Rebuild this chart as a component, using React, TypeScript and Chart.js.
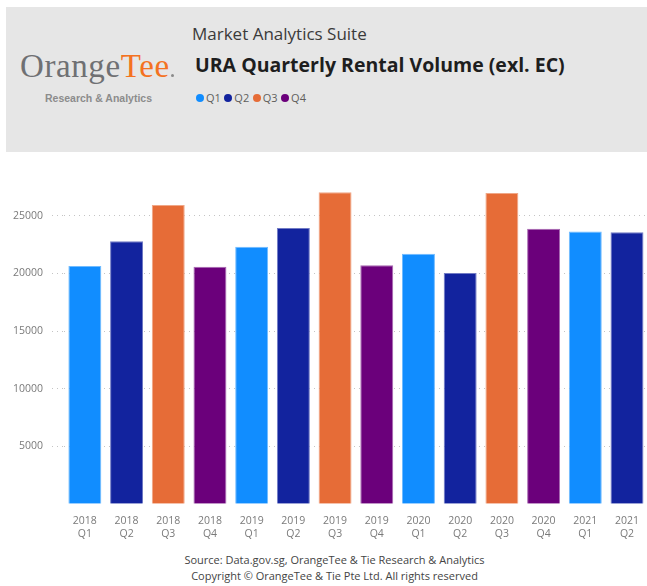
import React, { useEffect, useRef } from "react";
import { Chart, registerables } from "chart.js";

Chart.register(...registerables);

// ---- data ----
const years = ["2018", "2018", "2018", "2018", "2019", "2019", "2019", "2019", "2020", "2020", "2020", "2020", "2021", "2021"];
const quarters = ["Q1", "Q2", "Q3", "Q4", "Q1", "Q2", "Q3", "Q4", "Q1", "Q2", "Q3", "Q4", "Q1", "Q2"];
const rentalVolume = [20650, 22800, 25950, 20580, 22310, 23940, 27040, 20720, 21700, 20030, 26980, 23880, 23650, 23570];
const quarterNames = ["Q1", "Q2", "Q3", "Q4"];
const yTickValues = [5000, 10000, 15000, 20000, 25000];

// ---- styles ----
const quarterColors = ["#118DFF", "#12239E", "#E66C37", "#6B007B"];
const quarterEdges = ["#70bbff", "#717bc5", "#f0a787", "#a666b0"];
const FONT = "'Open Sans', 'Noto Sans', sans-serif";
const TICK_COLOR = "#7a7a7a";
const GRID_COLOR = "#c4c4c4";

function BarChart() {
  const ref = useRef<HTMLCanvasElement | null>(null);
  useEffect(() => {
    if (!ref.current) return;
    const qIdx = quarters.map((q) => quarterNames.indexOf(q));
    const chart = new Chart(ref.current, {
      type: "bar",
      data: {
        labels: years.map((y, i) => [y, quarters[i]]),
        datasets: [
          {
            data: rentalVolume,
            backgroundColor: qIdx.map((i) => quarterColors[i]),
            borderColor: qIdx.map((i) => quarterEdges[i]),
            borderWidth: 1,
            categoryPercentage: 1,
            barPercentage: 0.79,
          },
        ],
      },
      options: {
        animation: false,
        responsive: false,
        maintainAspectRatio: false,
        layout: { padding: { top: 21.3, left: 0, right: 0, bottom: 0 } },
        plugins: { legend: { display: false }, tooltip: { enabled: false } },
        scales: {
          x: {
            grid: { display: false, drawTicks: false },
            border: { display: false },
            ticks: {
              color: TICK_COLOR,
              font: { family: FONT, size: 10.5, lineHeight: 1.25 },
              padding: 11,
              maxRotation: 0,
              autoSkip: false,
            },
          },
          y: {
            min: 0,
            max: 28000,
            afterBuildTicks: (s: any) => {
              s.ticks = yTickValues.map((v) => ({ value: v }));
            },
            afterFit: (s: any) => {
              s.width = 64;
            },
            grid: {
              color: GRID_COLOR,
              lineWidth: 1,
              drawTicks: true,
              tickLength: 12,
              tickColor: GRID_COLOR,
              tickBorderDash: [1, 4],
            },
            border: { display: false, dash: [1, 4] },
            ticks: {
              padding: 9,
              color: TICK_COLOR,
              font: { family: FONT, size: 10.5 },
              callback: (v: any) => String(v),
            },
          },
        },
      },
    });
    return () => chart.destroy();
  }, []);
  return <canvas ref={ref} width={650} height={392} style={{ width: 650, height: 392, display: "block" }} />;
}

export default function App() {
  return (
    <div
      style={{
        position: "absolute",
        left: 0,
        top: 0,
        width: 647,
        height: 586,
        overflow: "hidden",
        background: "#ffffff",
        fontFamily: FONT,
      }}
    >
      {/* header band */}
      <div style={{ position: "absolute", left: 6, top: 7, width: 641, height: 145, background: "#e6e6e6" }} />
      {/* logo */}
      <div
        style={{
          position: "absolute",
          left: 20,
          top: 45.5,
          fontFamily: "'Liberation Serif', 'DejaVu Serif', serif",
          fontSize: 33,
          lineHeight: "40px",
          whiteSpace: "nowrap",
          letterSpacing: 0.6,
        }}
      >
        <span style={{ color: "#6f7073" }}>Orange</span>
        <span style={{ color: "#f47221" }}>Tee</span>
        <span
          style={{
            display: "inline-block",
            width: 3,
            height: 3,
            borderRadius: "50%",
            background: "#8a8a8a",
            marginLeft: 1,
          }}
        />
      </div>
      <div
        style={{
          position: "absolute",
          left: 45,
          top: 91,
          fontFamily: "'Liberation Sans', Arial, sans-serif",
          fontSize: 10.5,
          fontWeight: 600,
          lineHeight: "14px",
          color: "#8c8c8c",
          whiteSpace: "nowrap",
        }}
      >
        Research &amp; Analytics
      </div>
      {/* titles */}
      <div
        style={{
          position: "absolute",
          left: 192,
          top: 22,
          fontSize: 17,
          lineHeight: "24px",
          color: "#3a3a3a",
          whiteSpace: "nowrap",
        }}
      >
        Market Analytics Suite
      </div>
      <div
        style={{
          position: "absolute",
          left: 195,
          top: 52,
          fontSize: 19.5,
          fontWeight: 700,
          lineHeight: "26px",
          color: "#1e1e1e",
          whiteSpace: "nowrap",
        }}
      >
        URA Quarterly Rental Volume (exl. EC)
      </div>
      {/* legend */}
      <div style={{ position: "absolute", left: 196, top: 90, display: "flex", alignItems: "center", height: 16 }}>
        {quarterNames.map((q, i) => (
          <div key={q} style={{ display: "flex", alignItems: "center", marginRight: 3.5 }}>
            <span
              style={{
                display: "inline-block",
                width: 8,
                height: 8,
                borderRadius: "50%",
                background: quarterColors[i],
                marginRight: 2,
              }}
            />
            <span style={{ fontSize: 11, color: "#605e5c", lineHeight: "16px" }}>{q}</span>
          </div>
        ))}
      </div>
      {/* chart */}
      <div style={{ position: "absolute", left: 0, top: 160, width: 650, height: 392 }}>
        <BarChart />
      </div>
      {/* footer */}
      <div
        style={{
          position: "absolute",
          left: 334.5,
          top: 552,
          transform: "translateX(-50%)",
          fontSize: 11,
          lineHeight: "16px",
          color: "#444444",
          textAlign: "center",
          whiteSpace: "nowrap",
        }}
      >
        <div>Source: Data.gov.sg, OrangeTee &amp; Tie Research &amp; Analytics</div>
        <div>Copyright © OrangeTee &amp; Tie Pte Ltd. All rights reserved</div>
      </div>
    </div>
  );
}
